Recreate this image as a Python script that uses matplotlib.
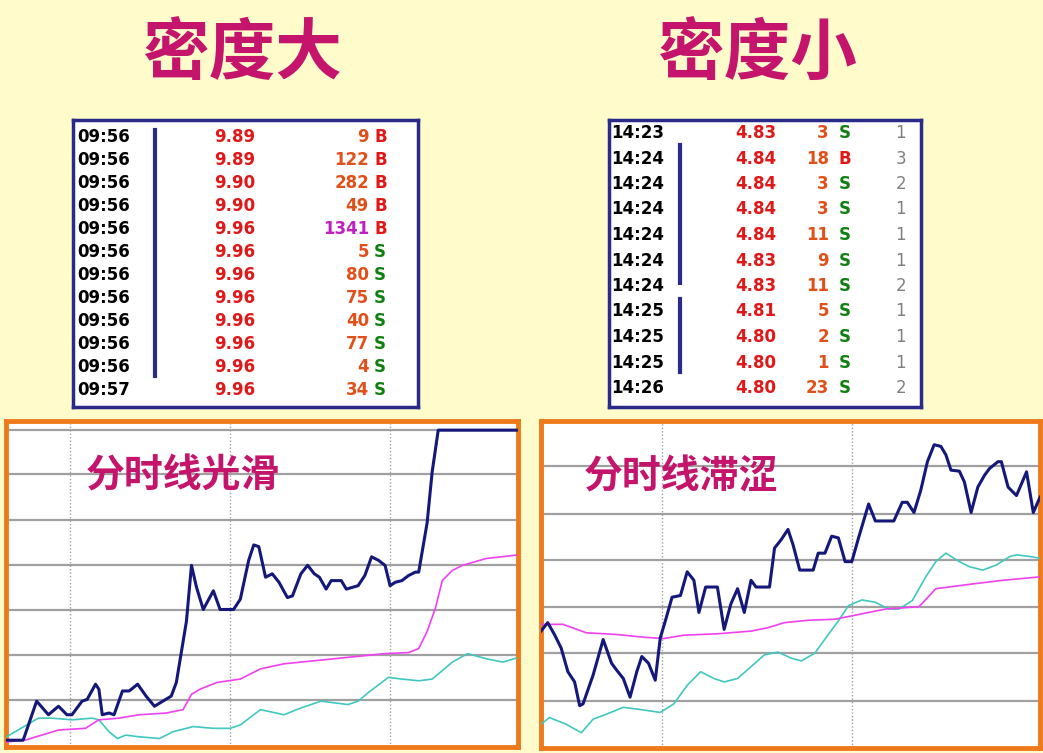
import matplotlib.pyplot as plt

plt.rcParams['font.family'] = ['Noto Sans CJK SC', 'DejaVu Sans']

W, H = 1043, 753
BG = '#FFFBCB'
TITLE_C = '#C4146C'
BLUE = '#14187A'
MAG = '#F040F0'
CYAN = '#40C8C0'
ORANGE = '#EE7A1C'

# ---- left table (密度大) ----
l_times = ['09:56'] * 11 + ['09:57']
l_prices = ['9.89', '9.89', '9.90', '9.90', '9.96', '9.96', '9.96', '9.96', '9.96', '9.96', '9.96', '9.96']
l_vols = [9, 122, 282, 49, 1341, 5, 80, 75, 40, 77, 4, 34]
l_sides = ['B', 'B', 'B', 'B', 'B', 'S', 'S', 'S', 'S', 'S', 'S', 'S']

# ---- right table (密度小) ----
r_times = ['14:23'] + ['14:24'] * 6 + ['14:25'] * 3 + ['14:26']
r_prices = ['4.83', '4.84', '4.84', '4.84', '4.84', '4.83', '4.83', '4.81', '4.80', '4.80', '4.80']
r_vols = [3, 18, 3, 3, 11, 9, 11, 5, 2, 1, 23]
r_sides = ['S', 'B', 'S', 'S', 'S', 'S', 'S', 'S', 'S', 'S', 'S']
r_counts = [1, 3, 2, 1, 1, 1, 2, 1, 1, 1, 2]

# ---- left chart (smooth) ----
lb_x = [1, 51, 91, 126, 156, 181, 196, 226, 241, 266, 276, 286, 306, 321, 346, 366, 391, 416, 441, 466, 491, 506,
        536, 551, 566, 586, 616, 636, 676, 696, 721, 736, 751, 771, 791, 811, 836, 851, 876, 896, 916, 931, 951, 966,
        996, 1011, 1046, 1066, 1086, 1106, 1126, 1141, 1156, 1176, 1196, 1216, 1226, 1251, 1266, 1284, 1516]
lb_y = [5, 5, 120, 80, 105, 80, 80, 120, 125, 170, 155, 80, 85, 80, 150, 150, 170, 135, 105, 120, 135, 175,
        355, 520, 455, 390, 445, 390, 390, 420, 535, 580, 575, 485, 495, 470, 425, 430, 495, 520, 495, 485, 450, 475,
        475, 450, 460, 490, 545, 535, 520, 460, 470, 475, 490, 500, 500, 645, 795, 918, 918]
lm_x = [1, 56, 106, 156, 236, 276, 336, 396, 476, 526, 551, 576, 626, 696, 756, 826, 926, 1026, 1126, 1196, 1226,
        1251, 1276, 1296, 1326, 1356, 1426, 1516]
lm_y = [0, 5, 20, 35, 40, 65, 70, 80, 85, 95, 140, 155, 175, 185, 215, 230, 240, 250, 260, 263, 275,
        325, 395, 475, 505, 520, 540, 550]
lc_x = [1, 36, 96, 136, 196, 256, 276, 306, 331, 356, 396, 456, 496, 556, 616, 666, 696, 756, 826, 876, 936, 976,
        1016, 1046, 1076, 1136, 1176, 1226, 1266, 1326, 1371, 1426, 1476, 1516]
lc_y = [15, 35, 70, 70, 65, 70, 65, 30, 10, 20, 15, 10, 30, 45, 40, 40, 50, 95, 80, 100, 120, 115,
        110, 120, 145, 190, 185, 180, 185, 235, 260, 245, 235, 247]
l_hgrid = [123, 257, 387, 520, 653, 788, 918]
l_vgrid = [191, 664, 1141]

# ---- right chart (sticky) ----
rb_x = [0, 20, 40, 60, 80, 100, 115, 125, 155, 185, 210, 225, 245, 265, 285, 300, 320, 340, 355, 370, 390, 415,
        435, 455, 470, 490, 525, 545, 565, 585, 605, 625, 640, 680, 695, 715, 735, 750, 770, 810, 825, 845, 865, 885,
        905, 925, 945, 975, 995, 1050, 1075, 1090, 1110, 1130, 1150, 1170, 1190, 1205, 1220, 1245, 1260, 1280, 1300,
        1320, 1335, 1360, 1370, 1390, 1415, 1445, 1465, 1485]
rb_y = [345, 370, 335, 295, 225, 195, 125, 130, 215, 320, 250, 230, 205, 150, 225, 270, 250, 200, 325, 375, 445, 450,
        520, 495, 400, 475, 475, 350, 425, 470, 400, 495, 475, 475, 590, 615, 645, 600, 525, 525, 575, 575, 625, 620,
        550, 550, 620, 720, 670, 670, 725, 725, 695, 760, 845, 895, 890, 865, 820, 817, 785, 695, 770,
        805, 825, 845, 845, 770, 745, 815, 695, 740]
rm_x = [0, 65, 135, 225, 305, 365, 425, 525, 625, 675, 725, 795, 875, 925, 975, 1025, 1125, 1175, 1275, 1375, 1485]
rm_y = [365, 365, 340, 335, 327, 323, 333, 337, 345, 355, 370, 377, 380, 390, 400, 410, 417, 470, 483, 495, 505]
rc_x = [0, 25, 75, 120, 155, 195, 245, 285, 355, 395, 435, 475, 515, 545, 585, 625, 665, 705, 745, 775, 815, 855,
        885, 915, 955, 995, 1035, 1065, 1105, 1145, 1175, 1205, 1245, 1275, 1315, 1355, 1395, 1415, 1455, 1485]
rc_y = [70, 90, 70, 45, 85, 100, 120, 115, 105, 130, 185, 225, 205, 195, 205, 240, 275, 283, 265, 257, 280, 335,
        375, 420, 437, 430, 410, 410, 435, 505, 550, 575, 550, 535, 525, 540, 565, 570, 565, 560]
r_hgrid = [140, 280, 417, 555, 692, 832]
r_vgrid = [360, 925]


def px_rect(x0, y0, x1, y1):
    return [x0 / W, 1 - y1 / H, (x1 - x0) / W, (y1 - y0) / H]


fig = plt.figure(figsize=(W / 100, H / 100), dpi=100, facecolor=BG)

fig.text(242 / W, 1 - 55 / H, '密度大', color=TITLE_C, fontsize=48, fontweight='bold', ha='center', va='center')
fig.text(757 / W, 1 - 55 / H, '密度小', color=TITLE_C, fontsize=48, fontweight='bold', ha='center', va='center')

RED = '#E01818'
VOLC = '#E2501A'
GREEN = '#108010'
FONT = dict(fontsize=12, fontweight='bold', family=['DejaVu Sans'], va='center')

# left table
ax = fig.add_axes(px_rect(73, 120, 418, 407))
ax.set_xlim(73, 418)
ax.set_ylim(407, 120)
ax.set_xticks([])
ax.set_yticks([])
for s in ax.spines.values():
    s.set_color('#2A2A8A')
    s.set_linewidth(2.5)
for i in range(len(l_times)):
    y = 137 + i * 23
    ax.text(77, y, l_times[i], color='black', ha='left', **FONT)
    ax.text(255, y, l_prices[i], color=RED, ha='right', **FONT)
    ax.text(369, y, str(l_vols[i]), color='#C020C0' if l_vols[i] > 1000 else VOLC, ha='right', **FONT)
    ax.text(374, y, l_sides[i], color=RED if l_sides[i] == 'B' else GREEN, ha='left', **FONT)
ax.plot([155, 155], [130, 376], color='#2A2A8A', lw=3)

# right table
ax = fig.add_axes(px_rect(609, 120, 921, 407))
ax.set_xlim(609, 921)
ax.set_ylim(407, 120)
ax.set_xticks([])
ax.set_yticks([])
for s in ax.spines.values():
    s.set_color('#2A2A8A')
    s.set_linewidth(2.5)
for i in range(len(r_times)):
    y = 133 + i * 25.5
    ax.text(611, y, r_times[i], color='black', ha='left', **FONT)
    ax.text(776, y, r_prices[i], color=RED, ha='right', **FONT)
    ax.text(829, y, str(r_vols[i]), color=VOLC, ha='right', **FONT)
    ax.text(839, y, r_sides[i], color=RED if r_sides[i] == 'B' else GREEN, ha='left', **FONT)
    ax.text(906, y, str(r_counts[i]), color='#808080', ha='right', fontsize=12, family=['DejaVu Sans'], va='center')
ax.plot([680, 680], [145, 283], color='#2A2A8A', lw=3)
ax.plot([680, 680], [299, 372], color='#2A2A8A', lw=3)


def draw_chart(rect, xs, ylim, hgrid, vgrid, series, label, label_pos):
    ax = fig.add_axes(rect)
    ax.set_facecolor('white')
    ax.set_xlim(*xs)
    ax.set_ylim(*ylim)
    ax.set_xticks([])
    ax.set_yticks([])
    for s in ax.spines.values():
        s.set_color(ORANGE)
        s.set_linewidth(3.5)
    for g in hgrid:
        ax.axhline(g, color='#A0A0A0', lw=1.6, zorder=1)
    for g in vgrid:
        ax.axvline(g, color='#A0A0A0', lw=1, ls=(0, (1, 1.5)), zorder=1)
    for x, y, c, lw in series:
        ax.plot(x, y, color=c, lw=lw, zorder=3)
    ax.text(label_pos[0], label_pos[1], label, transform=ax.transAxes, color=TITLE_C,
            fontsize=28, fontweight='bold', ha='left', va='center', zorder=4)


draw_chart(px_rect(6, 421, 518, 747), (0, 1521), (-15, 945), l_hgrid, l_vgrid,
           [(lc_x, lc_y, CYAN, 1.2), (lm_x, lm_y, MAG, 1.2), (lb_x, lb_y, BLUE, 2.2)],
           '分时线光滑', (0.155, 0.83))
draw_chart(px_rect(541, 421, 1040, 748), (0, 1485), (0, 965), r_hgrid, r_vgrid,
           [(rc_x, rc_y, CYAN, 1.2), (rm_x, rm_y, MAG, 1.2), (rb_x, rb_y, BLUE, 2.2)],
           '分时线滞涩', (0.085, 0.83))

fig.savefig('out.png', dpi=100, facecolor=BG)
